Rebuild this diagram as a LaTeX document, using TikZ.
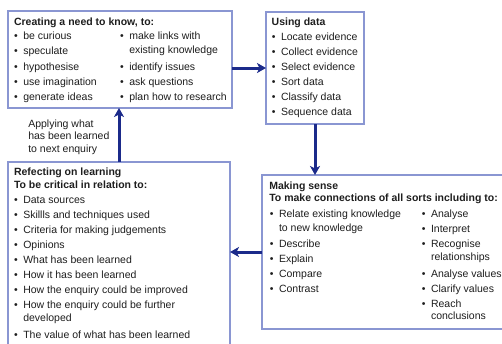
\documentclass[tikz,border=0pt]{standalone}
\usepackage{fontspec}
\setmainfont{Liberation Sans}
\usetikzlibrary{arrows.meta}
\definecolor{boxc}{HTML}{8A96D2}
\definecolor{arrc}{HTML}{1B2A8A}
\definecolor{textc}{HTML}{1E1E1E}
\tikzset{
  boxnode/.style={draw=boxc, line width=1.1pt, fill=white, rectangle, inner sep=0pt, outer sep=0pt, anchor=north west},
  txt/.style={anchor=base west, inner sep=0pt, outer sep=0pt, text=textc, font=\fontsize{10.5}{12.6}\selectfont},
  hdtxt/.style={txt, font=\fontsize{10.5}{12.6}\selectfont\bfseries},
  arr/.style={draw=arrc, line width=3pt, -{Stealth[length=9pt,width=10pt,inset=2.5pt]}}
}
\newcommand\bitem[4]{\node[txt] (#1) at (#2,#3) {\llap{•\hspace{5.4pt}}#4};}
\newcommand\contline[4]{\node[txt] (#1) at (#2,#3) {#4};}
\newcommand\hdline[4]{\node[hdtxt] (#1) at (#2,#3) {#4};}
\begin{document}
\begin{tikzpicture}[x=1pt,y=-1pt]
\useasboundingbox[fill=white] (0,0) rectangle (502,343);
% boxes
\node[boxnode, minimum width=224pt, minimum height=97pt] (b1) at (8,11) {};
\node[boxnode, minimum width=98pt, minimum height=112pt] (b2) at (266,12) {};
\node[boxnode, minimum width=244pt, minimum height=154pt] (b3) at (262,175) {};
\node[boxnode, minimum width=222pt, minimum height=186pt] (b4) at (8,162) {};
% connectors
\draw[arr] (b1.east |- b2.west) -- (b2.west);
\draw[arr] (b2.south) -- (b2.south |- b3.north);
\draw[arr] (b3.west) -- (b3.west -| b4.east);
\draw[arr] (b4.north) -- (b4.north |- b1.south);
% box 1
\hdline{h1}{14}{25.5}{Creating a need to know, to:}
\bitem{a1}{23.3}{39.5}{be curious}
\bitem{a2}{23.3}{54.5}{speculate}
\bitem{a3}{23.3}{70}{hypothesise}
\bitem{a4}{23.3}{85}{use imagination}
\bitem{a5}{23.3}{100}{generate ideas}
\bitem{a6}{129.3}{39.5}{make links with}
\contline{a7}{129.3}{53.5}{existing knowledge}
\bitem{a8}{129.3}{70}{identify issues}
\bitem{a9}{129.3}{85}{ask questions}
\bitem{a10}{129.3}{100}{plan how to research}
% box 2
\hdline{h2}{271.7}{25.5}{Using data}
\bitem{c1}{281}{40.5}{Locate evidence}
\bitem{c2}{281}{55.5}{Collect evidence}
\bitem{c3}{281}{70.5}{Select evidence}
\bitem{c4}{281}{85.3}{Sort data}
\bitem{c5}{281}{100.3}{Classify data}
\bitem{c6}{281}{115}{Sequence data}
% box 3
\hdline{h3}{269.3}{189}{Making sense}
\hdline{h3b}{269.3}{201}{To make connections of all sorts including to:}
\bitem{d1}{279}{217.5}{Relate existing knowledge}
\contline{d2}{279}{231}{to new knowledge}
\bitem{d3}{279}{247.5}{Describe}
\bitem{d4}{279}{262.5}{Explain}
\bitem{d5}{279}{277.5}{Compare}
\bitem{d6}{279}{292}{Contrast}
\bitem{e1}{431}{217.5}{Analyse}
\bitem{e2}{431}{232.5}{Interpret}
\bitem{e3}{431}{247.5}{Recognise}
\contline{e4}{431}{260}{relationships}
\bitem{e5}{431}{277}{Analyse values}
\bitem{e6}{431}{292}{Clarify values}
\bitem{e7}{431}{307}{Reach}
\contline{e8}{431}{319.5}{conclusions}
% box 4
\hdline{h4}{14}{175.5}{Refecting on learning}
\hdline{h4b}{14}{188}{To be critical in relation to:}
\bitem{f1}{23.3}{203.5}{Data sources}
\bitem{f2}{23.3}{218.5}{Skillls and techniques used}
\bitem{f3}{23.3}{233.5}{Criteria for making judgements}
\bitem{f4}{23.3}{248.5}{Opinions}
\bitem{f5}{23.3}{263.5}{What has been learned}
\bitem{f6}{23.3}{278}{How it has been learned}
\bitem{f7}{23.3}{293}{How the enquiry could be improved}
\bitem{f8}{23.3}{308}{How the enquiry could be further}
\contline{f9}{23.3}{321}{developed}
\bitem{f10}{23.3}{338}{The value of what has been learned}
% label
\contline{l1}{28.3}{127}{Applying what}
\contline{l2}{28.3}{139}{has been learned}
\contline{l3}{28.3}{152}{to next enquiry}
\end{tikzpicture}
\end{document}
